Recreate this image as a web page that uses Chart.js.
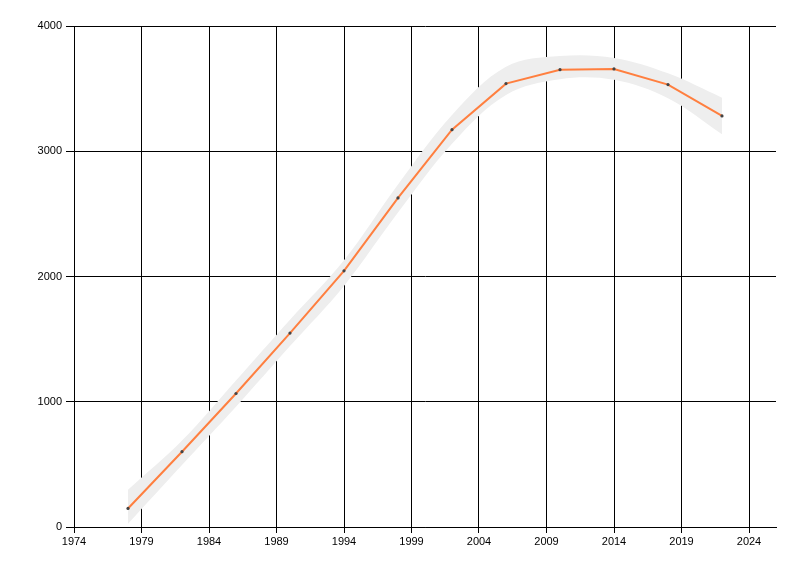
<!DOCTYPE html>
<html>
<head>
<meta charset="utf-8">
<script src="https://cdn.jsdelivr.net/npm/chart.js@4.4.1/dist/chart.umd.min.js"></script>
<style>
  html, body { margin: 0; padding: 0; background: #ffffff; }
  #wrap { width: 800px; height: 576px; }
</style>
</head>
<body>
<div id="wrap"><canvas id="chart"></canvas></div>
<script>
//// data ////////////////////////////////////////////////////////////////
const years = [1978, 1982, 1986, 1990, 1994, 1998, 2002, 2006, 2010, 2014, 2018, 2022];
const values = [148, 601, 1066, 1548, 2045, 2627, 3172, 3540, 3651, 3657, 3532, 3282];
// grey confidence band round the line
const bandUpper = [297, 690, 1170, 1655, 2130, 2735, 3290, 3675, 3760, 3745, 3622, 3428];
const bandLower = [25, 495, 960, 1445, 1925, 2510, 3060, 3450, 3575, 3570, 3423, 3136];
//tick labels
const xTicks = [1974, 1979, 1984, 1989, 1994, 1999, 2004, 2009, 2014, 2019, 2024];
const yTicks = [0, 1000, 2000, 3000, 4000];

const toPoints = (ys) => years.map((x, i) => ({ x: x, y: ys[i] }));

//// chart ///////////////////////////////////////////////////////////////
Chart.defaults.font.family = "'Liberation Sans', Arial, sans-serif";
Chart.defaults.font.size = 11;
Chart.defaults.color = "#000000";

const ctx = document.getElementById("chart");
let myChart = new Chart(ctx, {
  type: "line",
  data: {
    datasets: [
      {
        // the line with its dots
        data: toPoints(values),
        borderColor: "#ff7f3f",
        borderWidth: 2,
        tension: 0,
        pointRadius: 1.6,
        pointBackgroundColor: "#444444",
        pointBorderWidth: 0,
        fill: false,
        order: 0,
      },
      {
        data: toPoints(bandUpper),
        borderWidth: 0,
        borderColor: "rgba(0,0,0,0)",
        backgroundColor: "#eeeeee",
        pointRadius: 0,
        tension: 0.35,
        fill: "+1",
        order: 1,
      },
      {
        data: toPoints(bandLower),
        borderWidth: 0,
        borderColor: "rgba(0,0,0,0)",
        pointRadius: 0,
        tension: 0.35,
        fill: false,
        order: 2,
      },
    ],
  },
  options: {
    responsive: true,
    maintainAspectRatio: false,
    animation: false,
    layout: { padding: { left: 0, right: 24, top: 26, bottom: 0 } },
    plugins: {
      legend: { display: false },
      tooltip: { enabled: false },
    },
    scales: {
      x: {
        type: "linear",
        min: 1974,
        max: 2026,
        afterBuildTicks: (scale) => {
          scale.ticks = xTicks.map((v) => ({ value: v }));
        },
        afterFit: (scale) => {
          scale.height = 49;
        },
        grid: { color: "#000000", lineWidth: 1, tickLength: 6 },
        border: { color: "#000000", width: 1 },
        ticks: { padding: 2, maxRotation: 0, autoSkip: false, color: "#000000", callback: (v) => String(v) },
      },
      y: {
        min: 0,
        max: 4000,
        afterBuildTicks: (scale) => {
          scale.ticks = yTicks.map((v) => ({ value: v }));
        },
        afterFit: (scale) => {
          scale.width = 74;
        },
        grid: { color: "#000000", lineWidth: 1, tickLength: 8 },
        border: { color: "#000000", width: 1 },
        ticks: { padding: 4, color: "#000000", callback: (v) => String(v) },
      },
    },
  },
});
</script>
</body>
</html>
